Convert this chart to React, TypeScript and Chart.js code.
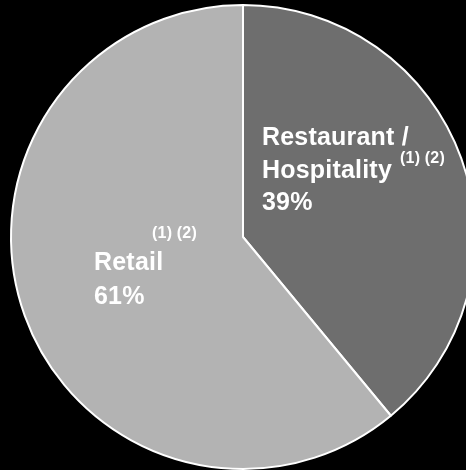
import React, { useEffect, useRef } from "react";
import { Chart, registerables } from "chart.js";

Chart.register(...registerables);

const categories = ["Restaurant / Hospitality", "Retail"];
const shares = [39, 61];
const sliceColors = ["#6e6e6e", "#b3b3b3"];
const labelLines = [["Restaurant /", "Hospitality", "39%"], ["Retail", "61%"]];
const footnote = "(1) (2)";

const FONT = '"Liberation Sans", Arial, sans-serif';

const labelPlugin = {
  id: "sliceLabels",
  afterDraw(chart: any) {
    const ctx = chart.ctx;
    const meta = chart.getDatasetMeta(0);
    const arc = meta.data[0];
    const cx = arc.x;
    const cy = arc.y;
    ctx.save();
    ctx.fillStyle = "#ffffff";
    ctx.textAlign = "left";
    ctx.textBaseline = "alphabetic";
    try { (ctx as any).letterSpacing = "0.2px"; } catch (e) {}
    // Restaurant / Hospitality
    ctx.font = `bold 25px ${FONT}`;
    const l0 = labelLines[0];
    const x0 = cx + 19;
    const b0 = [cy - 92, cy - 59, cy - 27];
    l0.forEach((t, i) => ctx.fillText(t, x0, b0[i]));
    ctx.font = `bold 16px ${FONT}`;
    ctx.fillText(footnote, cx + 157, cy - 74);
    // Retail
    ctx.font = `bold 25px ${FONT}`;
    const l1 = labelLines[1];
    const x1 = cx - 149;
    const b1 = [cy + 33, cy + 67];
    l1.forEach((t, i) => ctx.fillText(t, x1, b1[i]));
    ctx.font = `bold 16px ${FONT}`;
    ctx.fillText(footnote, cx - 91, cy + 1);
    ctx.restore();
  },
};

export default function App() {
  const ref = useRef<HTMLCanvasElement>(null);
  useEffect(() => {
    document.body.style.margin = "0";
    document.body.style.background = "#000";
    const chart = new Chart(ref.current!, {
      type: "pie",
      data: {
        labels: categories,
        datasets: [
          {
            data: shares,
            backgroundColor: sliceColors,
            borderColor: "#ffffff",
            borderWidth: 2,
          },
        ],
      },
      options: {
        responsive: false,
        animation: false,
        radius: 232,
        layout: { padding: 0 },
        plugins: { legend: { display: false }, tooltip: { enabled: false } },
      },
      plugins: [labelPlugin],
    });
    return () => chart.destroy();
  }, []);
  return (
    <div
      style={{
        position: "fixed",
        left: 0,
        top: 0,
        width: 466,
        height: 470,
        overflow: "hidden",
        background: "#000",
      }}
    >
      <canvas ref={ref} width={486} height={474} style={{ display: "block" }} />
    </div>
  );
}
